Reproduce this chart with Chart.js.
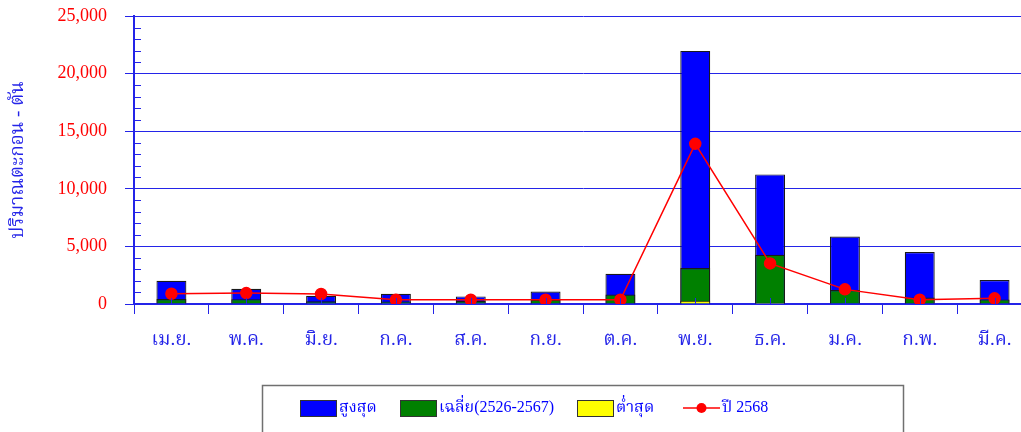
<!DOCTYPE html>
<html>
<head>
<meta charset="utf-8">
<script src="https://cdn.jsdelivr.net/npm/chart.js@4/dist/chart.umd.min.js"></script>
<style>
  html, body { margin: 0; padding: 0; background: #fff; overflow: hidden; }
</style>
</head>
<body>
<canvas id="chart" width="1039" height="432"></canvas>
<script>
// month labels (Thai fiscal year, Apr -> Mar)
const months = ['เม.ย.', 'พ.ค.', 'มิ.ย.', 'ก.ค.', 'ส.ค.', 'ก.ย.', 'ต.ค.', 'พ.ย.', 'ธ.ค.', 'ม.ค.', 'ก.พ.', 'มี.ค.'];

// sediment, tonnes
const maxValues = [2020, 1330, 720, 890, 660, 1090, 2630, 21970, 11250, 5860, 4510, 2080];
const avgValues = [430, 420, 230, 210, 260, 370, 830, 3120, 4280, 1210, 570, 400];
const minValues = [40, 30, 20, 20, 20, 30, 60, 290, 110, 50, 30, 30];
const year2568 = [890, 950, 870, 370, 370, 370, 370, 13900, 3520, 1270, 370, 490];

const seriesNames = ['สูงสุด', 'เฉลี่ย(2526-2567)', 'ต่ำสุด', 'ปี 2568'];

const BLUE = '#0000ff';
const AXIS = '#2424e8';
const FONT = "'Liberation Serif', 'Noto Serif Thai', 'Noto Sans Thai', serif";

/**
 * Minor y ticks, small center ticks on the x axis and the boxed legend.
 */
const decorations = {
    id: 'decorations',
    afterDatasetsDraw(chart) {
        const { ctx, chartArea, scales } = chart;
        const y = scales.y;
        const x = scales.x;

        ctx.save();
        ctx.strokeStyle = AXIS;
        ctx.lineWidth = 1;

        for (let v = 1000; v < 25000; v += 1000) {
            if (v % 5000 === 0) continue;
            const py = Math.round(y.getPixelForValue(v)) + 0.5;
            ctx.beginPath();
            ctx.moveTo(chartArea.left, py);
            ctx.lineTo(chartArea.left + 7, py);
            ctx.stroke();
        }

        for (let i = 0; i < months.length; i++) {
            const px = Math.round(x.getPixelForValue(i)) + 0.5;
            ctx.beginPath();
            ctx.moveTo(px, chartArea.bottom);
            ctx.lineTo(px, chartArea.bottom - 6);
            ctx.stroke();
        }
        ctx.restore();
    },
    afterDraw(chart) {
        const { ctx } = chart;
        const datasets = chart.data.datasets;
        const cy = 408;

        ctx.save();
        ctx.strokeStyle = '#707070';
        ctx.lineWidth = 1.5;
        ctx.strokeRect(262.5, 385.5, 641, 80);

        const slots = [300, 400, 577, 683];
        ctx.font = '16px ' + FONT;
        ctx.textBaseline = 'middle';

        datasets.forEach((ds, k) => {
            const sx = slots[k];
            if (ds.type === 'line') {
                ctx.strokeStyle = ds.borderColor;
                ctx.lineWidth = 1.5;
                ctx.beginPath();
                ctx.moveTo(sx, cy);
                ctx.lineTo(sx + 37, cy);
                ctx.stroke();
                ctx.fillStyle = ds.pointBackgroundColor;
                ctx.beginPath();
                ctx.arc(sx + 18.5, cy, 5, 0, Math.PI * 2);
                ctx.fill();
            } else {
                ctx.fillStyle = ds.backgroundColor;
                ctx.fillRect(sx, cy - 8, 36, 16);
                ctx.strokeStyle = '#333';
                ctx.lineWidth = 1;
                ctx.strokeRect(sx + 0.5, cy - 8 + 0.5, 36, 16);
            }
            ctx.fillStyle = BLUE;
            ctx.fillText(ds.label, sx + 39, cy);
        });
        ctx.restore();
    }
};

/**
 * Draws the chart.
 */
const ctx = document.getElementById('chart').getContext('2d');

new Chart(ctx, {
    data: {
        labels: months,
        datasets: [
            {
                type: 'bar',
                label: seriesNames[0],
                data: maxValues,
                backgroundColor: BLUE,
                borderColor: '#1a1a1a',
                borderWidth: 1.2,
                grouped: false,
                order: 3
            },
            {
                type: 'bar',
                label: seriesNames[1],
                data: avgValues,
                backgroundColor: '#008000',
                borderColor: '#1a1a1a',
                borderWidth: 1.2,
                grouped: false,
                order: 2
            },
            {
                type: 'bar',
                label: seriesNames[2],
                data: minValues,
                backgroundColor: '#ffff00',
                borderColor: '#1a1a1a',
                borderWidth: 1,
                grouped: false,
                order: 1
            },
            {
                type: 'line',
                label: seriesNames[3],
                data: year2568,
                borderColor: '#ff0000',
                borderWidth: 1.5,
                pointBackgroundColor: '#ff0000',
                pointBorderColor: '#ff0000',
                pointRadius: 5.5,
                tension: 0,
                order: 0
            }
        ]
    },
    options: {
        responsive: false,
        animation: false,
        layout: { padding: { top: 16, left: 0, right: 0, bottom: 0 } },
        datasets: {
            bar: { categoryPercentage: 1, barPercentage: 0.4 }
        },
        plugins: {
            legend: { display: false },
            tooltip: { enabled: false }
        },
        scales: {
            x: {
                offset: true,
                grid: {
                    offset: true,
                    drawOnChartArea: false,
                    tickLength: 10,
                    color: AXIS,
                    lineWidth: 1
                },
                border: { color: AXIS, width: 2 },
                ticks: {
                    color: AXIS,
                    padding: 15,
                    font: { family: FONT, size: 19 }
                },
                afterFit(scale) {
                    scale.height = 128;
                }
            },
            y: {
                min: 0,
                max: 25000,
                ticks: {
                    stepSize: 5000,
                    color: '#ff0000',
                    padding: 18,
                    font: { family: FONT, size: 18 },
                    callback: (v) => v.toLocaleString('en-US')
                },
                grid: {
                    color: AXIS,
                    lineWidth: 1,
                    tickLength: 9
                },
                border: { color: AXIS, width: 2 },
                title: {
                    display: true,
                    text: 'ปริมาณตะกอน - ตัน',
                    color: AXIS,
                    font: { family: FONT, size: 19 },
                    padding: { top: 7, bottom: 0 }
                },
                afterFit(scale) {
                    scale.width = 134;
                    scale.paddingTop = 0;
                    scale.paddingBottom = 0;
                }
            }
        }
    },
    plugins: [decorations]
});
</script>
</body>
</html>
